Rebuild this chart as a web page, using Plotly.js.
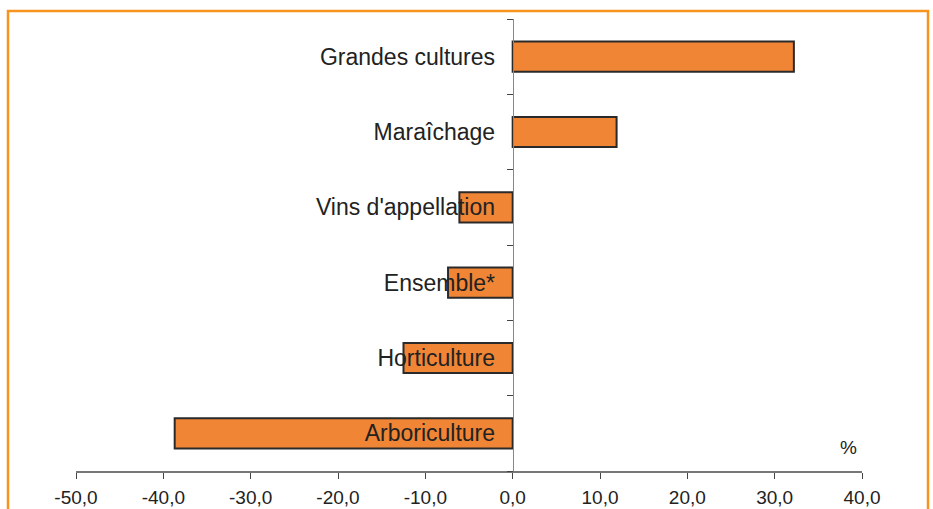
<!DOCTYPE html>
<html>
<head>
<meta charset="utf-8">
<script src="https://cdn.plot.ly/plotly-3.0.1.min.js"></script>
<style>
html,body{margin:0;padding:0;background:#fff;}
#chart{width:933px;height:509px;}
</style>
</head>
<body>
<div id="chart"></div>
<script>
// Data (bottom to top)
const categories = ["Arboriculture", "Horticulture", "Ensemble*", "Vins d'appellation", "Maraîchage", "Grandes cultures"];
const values = [-38.7, -12.5, -7.4, -6.1, 11.9, 32.2];
const xTickValues = [-50, -40, -30, -20, -10, 0, 10, 20, 30, 40];
const xTickLabels = ["-50,0", "-40,0", "-30,0", "-20,0", "-10,0", "0,0", "10,0", "20,0", "30,0", "40,0"];
const unitLabel = "%";

const trace = {
  type: 'bar',
  orientation: 'h',
  y: categories,
  x: values,
  width: 0.4,
  marker: {color: '#F08536', line: {color: '#2a2a2a', width: 2}},
  hoverinfo: 'x+y'
};

const plotTop = 19, plotBottom = 471, plotLeft = 76, plotRight = 862;
const plotW = plotRight - plotLeft, plotH = plotBottom - plotTop;

const layout = {
  width: 933,
  height: 509,
  margin: {l: plotLeft, r: 933 - plotRight, t: plotTop, b: 509 - plotBottom},
  paper_bgcolor: '#ffffff',
  plot_bgcolor: '#ffffff',
  showlegend: false,
  font: {family: 'Liberation Sans, Arial, sans-serif', color: '#222222'},
  xaxis: {
    range: [-50, 40],
    tickvals: xTickValues,
    ticktext: xTickLabels,
    ticks: 'outside',
    ticklen: 6,
    tickcolor: '#444444',
    showline: true,
    linecolor: '#777777',
    linewidth: 1.5,
    showgrid: false,
    zeroline: false,
    ticklabelstandoff: 3,
    tickfont: {size: 19, color: '#222222'},
    fixedrange: true
  },
  yaxis: {
    type: 'category',
    categoryorder: 'array',
    categoryarray: categories,
    range: [-0.5, 5.5],
    anchor: 'free',
    position: 50 / 90,
    showline: true,
    linecolor: '#888888',
    linewidth: 1.5,
    ticks: 'outside',
    tickson: 'boundaries',
    ticklen: 6,
    tickcolor: '#444444',
    showgrid: false,
    zeroline: false,
    ticklabelstandoff: 13,
    tickfont: {size: 23, color: '#222222'},
    fixedrange: true
  },
  annotations: [{
    text: unitLabel,
    xref: 'paper', yref: 'paper',
    x: (848 - plotLeft) / plotW, y: (plotBottom - 447) / plotH,
    xanchor: 'center', yanchor: 'middle',
    showarrow: false,
    font: {size: 19, color: '#222222'}
  }],
  shapes: [{
    type: 'rect',
    xref: 'paper', yref: 'paper',
    x0: (8 - plotLeft) / plotW, x1: (928 - plotLeft) / plotW,
    y0: -0.3, y1: (plotBottom - 11) / plotH,
    line: {color: '#F7941D', width: 2.5},
    fillcolor: 'rgba(0,0,0,0)',
    layer: 'above'
  }]
};

Plotly.newPlot('chart', [trace], layout, {displayModeBar: false, staticPlot: true});
</script>
</body>
</html>
